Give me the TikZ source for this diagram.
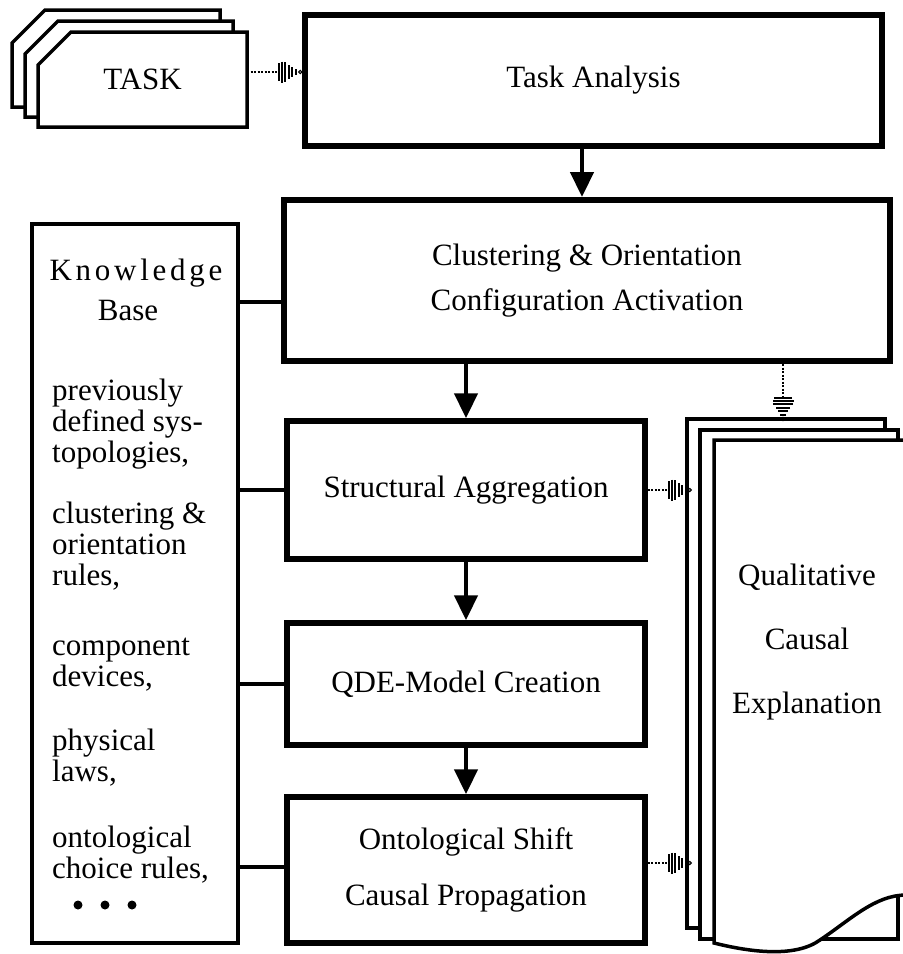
\documentclass[tikz,border=0pt]{standalone}
\usepackage{fontspec}
\setmainfont{Liberation Serif}
\usetikzlibrary{arrows.meta}
\newcommand\boxfont{\fontsize{31}{31}\selectfont}
% plug symbol at the end of a dotted link, #1 = tip, #2 = rotation
\newcommand\plugmark[2]{%
  \begin{scope}[shift={#1},rotate=#2,line width=1.8pt]
    \foreach \pu/\ph in {-23/9,-20/10.5,-17/10,-13/7,-10/5,-6/3}
      \draw (\pu,-\ph) -- (\pu,\ph);%
    \draw[line width=1pt] (-2,0) circle (1.6);%
  \end{scope}}
\tikzset{
  stage/.style={draw, line width=5.5pt, inner sep=0pt, align=center, font=\boxfont},
  sheet/.style={draw, line width=3.5pt, fill=white, line join=miter},
  kbtext/.style={anchor=base west, inner sep=0pt, font=\boxfont},
  kblink/.style={line width=4pt},
  flow/.style={line width=4.5pt, -{Triangle[width=23pt,length=25pt]}},
  dotlink/.style={line width=2.5pt, dash pattern=on 2pt off 1.5pt},
}
\begin{document}
\begin{tikzpicture}[x=1pt,y=-1pt]
\useasboundingbox (0,0) rectangle (903,954);

% Drawing the TASK sheets
\draw[sheet] (12,43) -- (45,10) -- (220,10) -- (220,107) -- (12,107) -- cycle;%
\draw[sheet] (25,54) -- (58,21) -- (233,21) -- (233,117) -- (25,117) -- cycle;%
\draw[sheet] (38,65) -- (71,32) -- (247,32) -- (247,127) -- (38,127) -- cycle;%
\node[inner sep=0pt, font=\boxfont, minimum width=209pt, minimum height=95pt] (task) at (142.5,79.5) {TASK};%

% Drawing the stage boxes
\node[stage, minimum width=577pt, minimum height=131pt] (ta) at (593.5,80.5) {Task Analysis};%
\node[stage, line width=6pt, minimum width=606pt, minimum height=161pt, font=\fontsize{31}{45}\selectfont] (clust) at (587,280.5) {Clustering \& Orientation\\Configuration Activation};%
\node[stage, minimum width=358pt, minimum height=138pt] (struct) at (466,490) {Structural Aggregation};%
\node[stage, minimum width=358pt, minimum height=122pt] (qde) at (466,684) {QDE-Model Creation};%
\node[stage, minimum width=358pt, minimum height=146pt, font=\fontsize{31}{56}\selectfont] (onto) at (466,870) {Ontological Shift\\Causal Propagation};%

% Drawing the knowledge base
\node[draw, line width=4pt, minimum width=206pt, minimum height=719pt] (kb) at (135,583.5) {};%
\node[kbtext, anchor=base] (kbhead) at (136,280) {\addfontfeature{LetterSpace=12}Knowledge};%
\node[kbtext, anchor=base] (kbbase) at (128,320) {Base};%
\foreach \y/\t [count=\i] in {400/previously, 431/defined sys-, 462/{topologies,}, 523/clustering \&, 554/orientation, 585/{rules,}, 655/component, 686/{devices,}, 750/physical, 781/{laws,}, 847/ontological, 878/{choice rules,}}
  \node[kbtext] (kbitem\i) at (52,\y) {\t};%
\foreach \x in {78,105,132}
  \fill (\x,905) circle (4.5);%

% Drawing the explanation sheets
\draw[sheet] (687,419) rectangle (885,928);%
\draw[sheet] (700,430) rectangle (898,939);%
\draw[sheet] (714,440) -- (906,440) -- (906,895) .. controls (875,895) and (850,920) .. (820,940) .. controls (795,958) and (750,952) .. (714,943) -- cycle;%
\node[inner sep=0pt, minimum width=198pt, minimum height=509pt] (doc) at (786,673.5) {};%
\node[font=\fontsize{31}{64}\selectfont, align=center, inner sep=0pt] (expl) at (807,642) {Qualitative\\Causal\\Explanation};%

% Drawing knowledge base links
\coordinate (kbc) at ([yshift=-21.5pt]clust.west);%
\draw[kblink] (kbc -| kb.east) -- (kbc);%
\draw[kblink] (struct.west -| kb.east) -- (struct.west);%
\draw[kblink] (qde.west -| kb.east) -- (qde.west);%
\coordinate (kbo) at ([yshift=3pt]onto.west);%
\draw[kblink] (kbo -| kb.east) -- (kbo);%

% Drawing flow arrows
\coordinate (tadown) at ([xshift=-11.5pt]ta.south);%
\draw[flow] (tadown) -- (tadown |- clust.north);%
\draw[flow] (clust.south -| struct.north) -- (struct.north);%
\draw[flow] (struct.south) -- (qde.north);%
\draw[flow] (qde.south) -- (onto.north);%

% Drawing dotted links
\coordinate (tasklink) at ([yshift=7.5pt]task.east);%
\coordinate (taplug) at (tasklink -| ta.west);%
\draw[dotlink] (tasklink) -- ([xshift=-23pt]taplug);%
\plugmark{(taplug)}{0}%
\coordinate (sdplug) at ([xshift=5pt]struct.east -| doc.west);%
\draw[dotlink] (struct.east) -- ([xshift=-23pt]sdplug);%
\plugmark{(sdplug)}{0}%
\coordinate (odlink) at ([yshift=7pt]onto.east);%
\coordinate (odplug) at ([xshift=5pt]odlink -| doc.west);%
\draw[dotlink] (odlink) -- ([xshift=-23pt]odplug);%
\plugmark{(odplug)}{0}%
\coordinate (cdplug) at (783,421);%
\draw[dotlink] (clust.south -| cdplug) -- ([yshift=23pt]cdplug);%
\plugmark{(cdplug)}{-90}%
\end{tikzpicture}
\end{document}
